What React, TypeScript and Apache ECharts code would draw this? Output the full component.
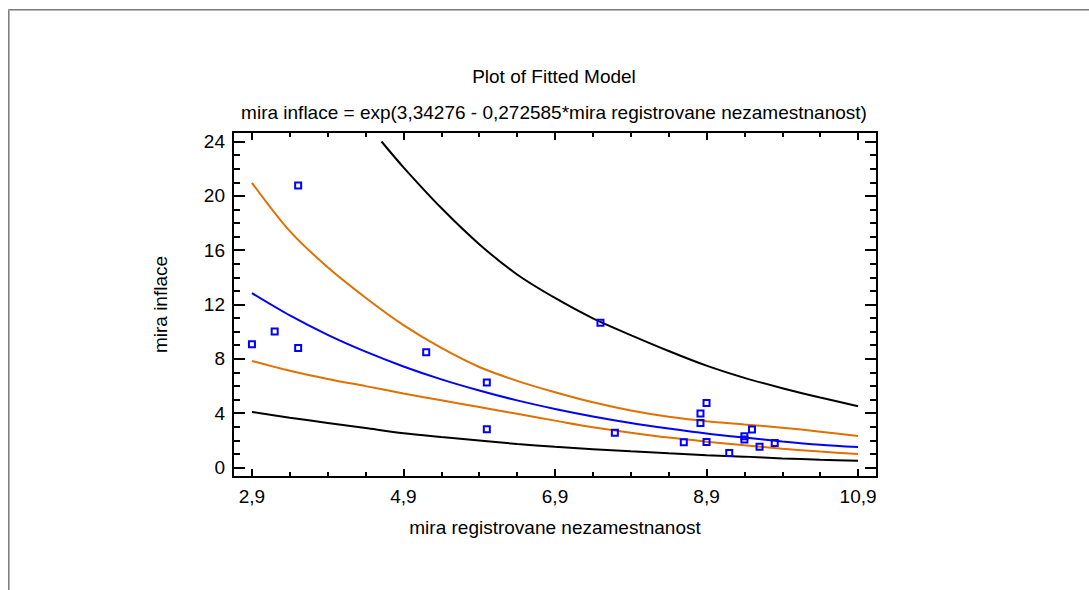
import React, { useEffect, useRef } from "react";
import * as echarts from "echarts";

const chartTitle = "Plot of Fitted Model";
const chartSubtitle = "mira inflace = exp(3,34276 - 0,272585*mira registrovane nezamestnanost)";
const xName = "mira registrovane nezamestnanost";
const yName = "mira inflace";

// observed points
const pointX = [2.9, 3.2, 3.51, 3.51, 5.2, 6.0, 6.0, 7.5, 7.69, 8.6, 8.82, 8.82, 8.9, 8.9, 9.2, 9.4, 9.4, 9.5, 9.6, 9.8];
const pointY = [9.07, 10.02, 20.76, 8.8, 8.48, 6.25, 2.82, 10.66, 2.55, 1.86, 3.97, 3.28, 4.75, 1.88, 1.07, 2.3, 2.06, 2.79, 1.52, 1.81];

// curves read along x
const curveX = [2.9, 3.4, 3.9, 4.4, 4.9, 5.4, 5.9, 6.4, 6.9, 7.4, 7.9, 8.4, 8.9, 9.4, 9.9, 10.4, 10.9];
const fitted = [12.84, 11.2, 9.77, 8.53, 7.44, 6.49, 5.67, 4.94, 4.31, 3.76, 3.28, 2.87, 2.5, 2.2, 1.92, 1.68, 1.5];
const confUpper = [20.96, 17.4, 14.74, 12.5, 10.48, 8.8, 7.4, 6.38, 5.54, 4.8, 4.2, 3.74, 3.41, 3.17, 2.93, 2.64, 2.32];
const confLower = [7.84, 7.12, 6.52, 5.99, 5.45, 4.95, 4.45, 3.95, 3.45, 2.96, 2.56, 2.2, 1.9, 1.63, 1.38, 1.17, 1.0];
const predLower = [4.09, 3.67, 3.28, 2.9, 2.52, 2.24, 1.98, 1.73, 1.52, 1.35, 1.19, 1.04, 0.91, 0.8, 0.67, 0.57, 0.49];
const predUpperX = [4.61, 4.9, 5.4, 5.9, 6.4, 6.9, 7.4, 7.9, 8.4, 8.9, 9.4, 9.9, 10.4, 10.9];
const predUpper = [24.0, 22.1, 19.1, 16.44, 14.21, 12.48, 10.98, 9.75, 8.58, 7.5, 6.6, 5.84, 5.15, 4.51];

// axis ticks
const xMajorTicks = [2.9, 4.9, 6.9, 8.9, 10.9];
const xMinorTicks = [2.9, 3.4, 3.9, 4.4, 4.9, 5.4, 5.9, 6.4, 6.9, 7.4, 7.9, 8.4, 8.9, 9.4, 9.9, 10.4, 10.9];
const yMajorTicks = [0, 4, 8, 12, 16, 20, 24];
const yMinorTicks = [0, 1, 2, 3, 4, 5, 6, 7, 8, 9, 10, 11, 12, 13, 14, 15, 16, 17, 18, 19, 20, 21, 22, 23, 24];

const X_MIN = 2.65;
const X_MAX = 11.15;
const Y_MIN = -0.7;
const Y_MAX = 24.7;

const FONT = "'Liberation Sans', Arial, sans-serif";
const ORANGE = "#E07000";
const BLUE = "#0000FF";

function zip(xs: number[], ys: number[]) {
  return xs.map((x, i) => [x, ys[i]]);
}

export default function App() {
  const ref = useRef<HTMLDivElement>(null);
  useEffect(() => {
    document.body.style.margin = "0";
    if (!ref.current) return;
    const chart = echarts.init(ref.current, null, { renderer: "svg" });

    const lineW = 2;
    const baseX = {
      type: "value",
      min: X_MIN,
      max: X_MAX,
      offset: 0,
      splitLine: { show: false },
    };
    const baseY = {
      type: "value",
      min: Y_MIN,
      max: Y_MAX,
      offset: 0,
      splitLine: { show: false },
    };
    const axisLineOn = { show: true, onZero: false, lineStyle: { color: "#000", width: lineW } };
    const axisLineOff = { show: false, onZero: false };

    const xAxes = [
      {
        ...baseX,
        position: "bottom",
        axisLine: axisLineOn,
        axisTick: { show: true, inside: true, length: 8, customValues: xMajorTicks, lineStyle: { color: "#000", width: lineW } },
        axisLabel: {
          show: true,
          customValues: xMajorTicks,
          margin: 10,
          color: "#000",
          fontFamily: FONT,
          fontSize: 19,
          formatter: (v: number) => String(v).replace(".", ","),
        },
        name: xName,
        nameLocation: "middle",
        nameGap: 41,
        nameTextStyle: { color: "#000", fontFamily: FONT, fontSize: 19, verticalAlign: "top" },
      },
      {
        ...baseX,
        position: "bottom",
        axisLine: axisLineOff,
        axisTick: { show: true, inside: true, length: 5, customValues: xMinorTicks, lineStyle: { color: "#000", width: lineW } },
        axisLabel: { show: false },
      },
      {
        ...baseX,
        position: "top",
        axisLine: axisLineOn,
        axisTick: { show: true, inside: true, length: 8, customValues: xMajorTicks, lineStyle: { color: "#000", width: lineW } },
        axisLabel: { show: false },
      },
      {
        ...baseX,
        position: "top",
        axisLine: axisLineOff,
        axisTick: { show: true, inside: true, length: 5, customValues: xMinorTicks, lineStyle: { color: "#000", width: lineW } },
        axisLabel: { show: false },
      },
    ];

    const yAxes = [
      {
        ...baseY,
        position: "left",
        axisLine: axisLineOn,
        axisTick: { show: true, inside: true, length: 12, customValues: yMajorTicks, lineStyle: { color: "#000", width: lineW } },
        axisLabel: {
          show: true,
          customValues: yMajorTicks,
          margin: 8,
          color: "#000",
          fontFamily: FONT,
          fontSize: 19,
        },
        name: yName,
        nameLocation: "middle",
        nameGap: 63,
        nameTextStyle: { color: "#000", fontFamily: FONT, fontSize: 19 },
      },
      {
        ...baseY,
        position: "left",
        axisLine: axisLineOff,
        axisTick: { show: true, inside: true, length: 7, customValues: yMinorTicks, lineStyle: { color: "#000", width: lineW } },
        axisLabel: { show: false },
      },
      {
        ...baseY,
        position: "right",
        axisLine: axisLineOn,
        axisTick: { show: true, inside: true, length: 12, customValues: yMajorTicks, lineStyle: { color: "#000", width: lineW } },
        axisLabel: { show: false },
      },
      {
        ...baseY,
        position: "right",
        axisLine: axisLineOff,
        axisTick: { show: true, inside: true, length: 7, customValues: yMinorTicks, lineStyle: { color: "#000", width: lineW } },
        axisLabel: { show: false },
      },
    ];

    const lineSeries = (name: string, data: number[][], color: string) => ({
      name,
      type: "line",
      xAxisIndex: 0,
      yAxisIndex: 0,
      data,
      smooth: 0.3,
      showSymbol: false,
      symbol: "none",
      lineStyle: { color, width: 2 },
      z: 2,
      silent: true,
    });

    chart.setOption({
      animation: false,
      backgroundColor: "#fff",
      grid: { left: 233, right: 212, top: 132, bottom: 113, containLabel: false },
      xAxis: xAxes,
      yAxis: yAxes,
      graphic: [
        { type: "rect", shape: { x: 8.5, y: 9.5, width: 1200, height: 700 }, style: { fill: "none", stroke: "#7f7f7f", lineWidth: 1 }, silent: true },
        { type: "rect", shape: { x: 9.5, y: 10.5, width: 1200, height: 700 }, style: { fill: "none", stroke: "#b4b4b4", lineWidth: 1 }, silent: true },
        { type: "text", x: 554, y: 76, style: { text: chartTitle, fontFamily: FONT, fontSize: 19, fill: "#000", align: "center", verticalAlign: "middle" } },
        { type: "text", x: 554, y: 112, style: { text: chartSubtitle, fontFamily: FONT, fontSize: 19, fill: "#000", align: "center", verticalAlign: "middle" } },
      ],
      series: [
        lineSeries("predUpper", zip(predUpperX, predUpper), "#000"),
        lineSeries("predLower", zip(curveX, predLower), "#000"),
        lineSeries("confUpper", zip(curveX, confUpper), ORANGE),
        lineSeries("confLower", zip(curveX, confLower), ORANGE),
        lineSeries("fitted", zip(curveX, fitted), BLUE),
        {
          name: "observed",
          type: "scatter",
          xAxisIndex: 0,
          yAxisIndex: 0,
          data: zip(pointX, pointY),
          symbol: "rect",
          symbolSize: 6,
          itemStyle: { color: "rgba(255,255,255,0)", borderColor: BLUE, borderWidth: 2, opacity: 1 },
          z: 5,
        },
      ],
    });
    return () => chart.dispose();
  }, []);
  return <div ref={ref} style={{ width: 1089, height: 590 }} />;
}
